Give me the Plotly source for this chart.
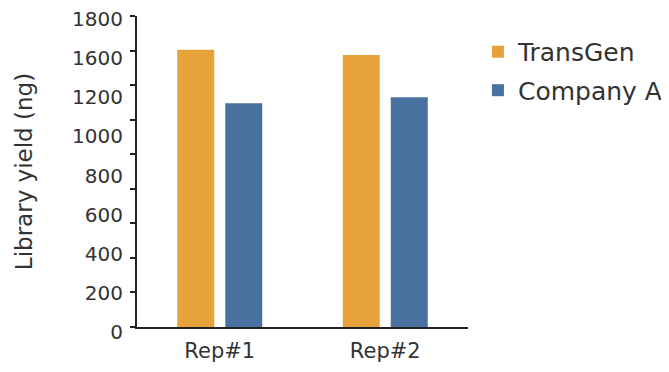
import plotly.graph_objects as go

categories = ["Rep#1", "Rep#2"]
transgen = [1605, 1575]
company_a = [1295, 1330]
series_names = ["TransGen", "Company A"]
colors = ["#E7A239", "#4871A0"]
tick_values = [0, 200, 400, 600, 800, 1000, 1200, 1400, 1600, 1800]
tick_labels = ["0", "200", "400", "600", "800", "1000", "1200", "1600", "1800"]

FONT = "DejaVu Sans"
TXT = "#333333"

fig = go.Figure()
for name, vals, col, grp in zip(series_names, [transgen, company_a], colors, ["a", "b"]):
    fig.add_trace(go.Bar(x=categories, y=vals, name=name, marker=dict(color=col, line=dict(width=0)),
                         legendgroup=grp))

# helper axis that carries the (unevenly placed) value labels
fig.add_trace(go.Scatter(x=[], y=[], yaxis="y2", showlegend=False, hoverinfo="skip"))

fig.update_layout(
    width=669, height=372,
    margin=dict(l=129, r=209, t=8, b=40, autoexpand=False),
    paper_bgcolor="white", plot_bgcolor="rgba(0,0,0,0)",
    font=dict(family=FONT, color=TXT),
    barmode="group", bargap=0.42, bargroupgap=0.23,
    showlegend=True,
    legend=dict(x=1.03, y=0.96, xanchor="left", yanchor="top",
                font=dict(size=25, family=FONT, color=TXT),
                traceorder="grouped", tracegroupgap=3,
                bgcolor="rgba(0,0,0,0)"),
    xaxis=dict(range=[-0.5, 1.5], showline=True, linecolor="#222222", linewidth=1.5,
               ticks="", showgrid=False, zeroline=False, automargin=False,
               tickfont=dict(size=21, family=FONT, color=TXT), ticklabelstandoff=4),
    yaxis=dict(domain=[0.04, 1], range=[0, 1800], tickmode="array", tickvals=tick_values,
               showticklabels=False, ticks="outside", ticklen=5, tickcolor="#222222", tickwidth=1.5,
               showline=True, linecolor="#222222", linewidth=1.5, showgrid=False, zeroline=False,
               automargin=False,
               title=dict(text="Library yield (ng)", font=dict(size=23, family=FONT, color=TXT), standoff=91)),
    yaxis2=dict(domain=[0, 1], anchor="free", position=0, side="left",
                range=[-0.204, 8.076], tickmode="array", automargin=False,
                tickvals=list(range(len(tick_labels))), ticktext=tick_labels,
                showline=False, ticks="", showgrid=False, zeroline=False, ticklabeloverflow="allow",
                tickfont=dict(size=20, family=FONT, color=TXT), ticklabelstandoff=14),
)

fig.write_html("out.html")
